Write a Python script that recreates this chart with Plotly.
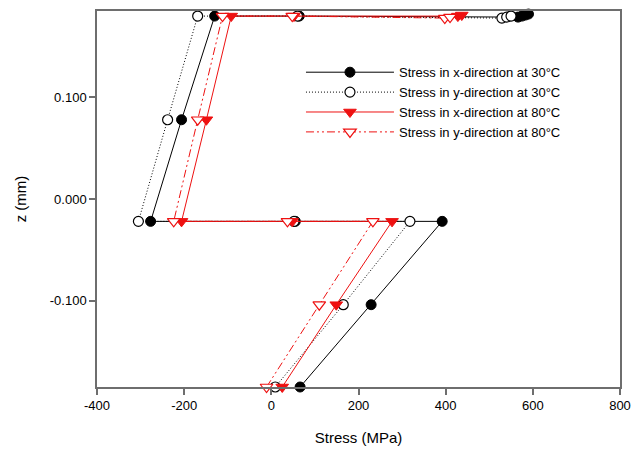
import plotly.graph_objects as go

# Through-thickness stress profiles (z in mm, stress in MPa), listed in path order
z_x30 = [-0.185, -0.104, -0.022, -0.022, -0.022, 0.078, 0.180, 0.180, 0.179, 0.180, 0.181, 0.182]
s_x30 = [66, 229, 392, 55, -277, -206, -130, 64, 566, 575, 583, 590]

z_y30 = [-0.185, -0.104, -0.022, -0.022, -0.022, 0.078, 0.180, 0.180, 0.178, 0.179, 0.180]
s_y30 = [9, 165, 318, 52, -305, -238, -169, 60, 529, 540, 550]

z_x80 = [-0.185, -0.104, -0.022, -0.022, -0.022, 0.078, 0.180, 0.180, 0.180, 0.181]
s_x80 = [25, 149, 277, 48, -206, -149, -92, 52, 428, 437]

z_y80 = [-0.185, -0.104, -0.022, -0.022, -0.022, 0.078, 0.180, 0.180, 0.178, 0.179]
s_y80 = [-11, 110, 233, 37, -224, -169, -112, 48, 398, 410]

names = [
    "Stress in x-direction at 30°C",
    "Stress in y-direction at 30°C",
    "Stress in x-direction at 80°C",
    "Stress in y-direction at 80°C",
]

x_ticks = [-400, -200, 0, 200, 400, 600, 800]
x_tick_text = ["-400", "-200", "0", "200", "400", "600", "800"]
z_ticks = [-0.1, 0.0, 0.1]
z_tick_text = ["-0.100", "0.000", "0.100"]

RED = "#ee1111"
AXIS = "#6e6e6e"

fig = go.Figure()

fig.add_trace(go.Scatter(
    x=s_x30, y=z_x30, name=names[0], mode="lines+markers",
    line=dict(color="black", width=1),
    marker=dict(symbol="circle", size=10, color="black", line=dict(color="black", width=1)),
    cliponaxis=False,
))
fig.add_trace(go.Scatter(
    x=s_y30, y=z_y30, name=names[1], mode="lines+markers",
    line=dict(color="black", width=1, dash="1px,2px"),
    marker=dict(symbol="circle", size=10, color="white", line=dict(color="black", width=1.2)),
    cliponaxis=False,
))
fig.add_trace(go.Scatter(
    x=s_x80, y=z_x80, name=names[2], mode="lines+markers",
    line=dict(color=RED, width=1),
    marker=dict(symbol="triangle-down", size=11, color=RED, line=dict(color=RED, width=1)),
    cliponaxis=False,
))
fig.add_trace(go.Scatter(
    x=s_y80, y=z_y80, name=names[3], mode="lines+markers",
    line=dict(color=RED, width=1, dash="8px,3px,2px,3px,2px,3px"),
    marker=dict(symbol="triangle-down", size=11, color="white", line=dict(color=RED, width=1.2)),
    cliponaxis=False,
))

fig.update_layout(
    width=633, height=450,
    margin=dict(l=97, r=13, t=11, b=63),
    paper_bgcolor="white", plot_bgcolor="white",
    font=dict(family="Liberation Sans, Arial, sans-serif", size=13, color="black"),
    showlegend=True,
    legend=dict(
        x=0.39, y=0.877, xanchor="left", yanchor="top",
        bgcolor="rgba(0,0,0,0)", font=dict(size=13),
        tracegroupgap=0, itemwidth=88,
    ),
)

fig.update_xaxes(
    range=[-400, 800], tickvals=x_ticks, ticktext=x_tick_text,
    showgrid=False, zeroline=False, automargin=False,
    showline=True, linecolor=AXIS, linewidth=1.5, mirror=True,
    ticks="outside", ticklen=6, tickcolor=AXIS, tickwidth=1.5,
    tickfont=dict(size=13),
    title=dict(text="Stress (MPa)", font=dict(size=15), standoff=20),
)
fig.update_yaxes(
    range=[-0.185, 0.185], tickvals=z_ticks, ticktext=z_tick_text,
    showgrid=False, zeroline=False, automargin=False,
    showline=True, linecolor=AXIS, linewidth=1.5, mirror=True,
    ticks="outside", ticklen=6, tickcolor=AXIS, tickwidth=1.5,
    tickfont=dict(size=13),
    title=dict(text="z (mm)", font=dict(size=15), standoff=20),
)

fig.write_html("out.html")
